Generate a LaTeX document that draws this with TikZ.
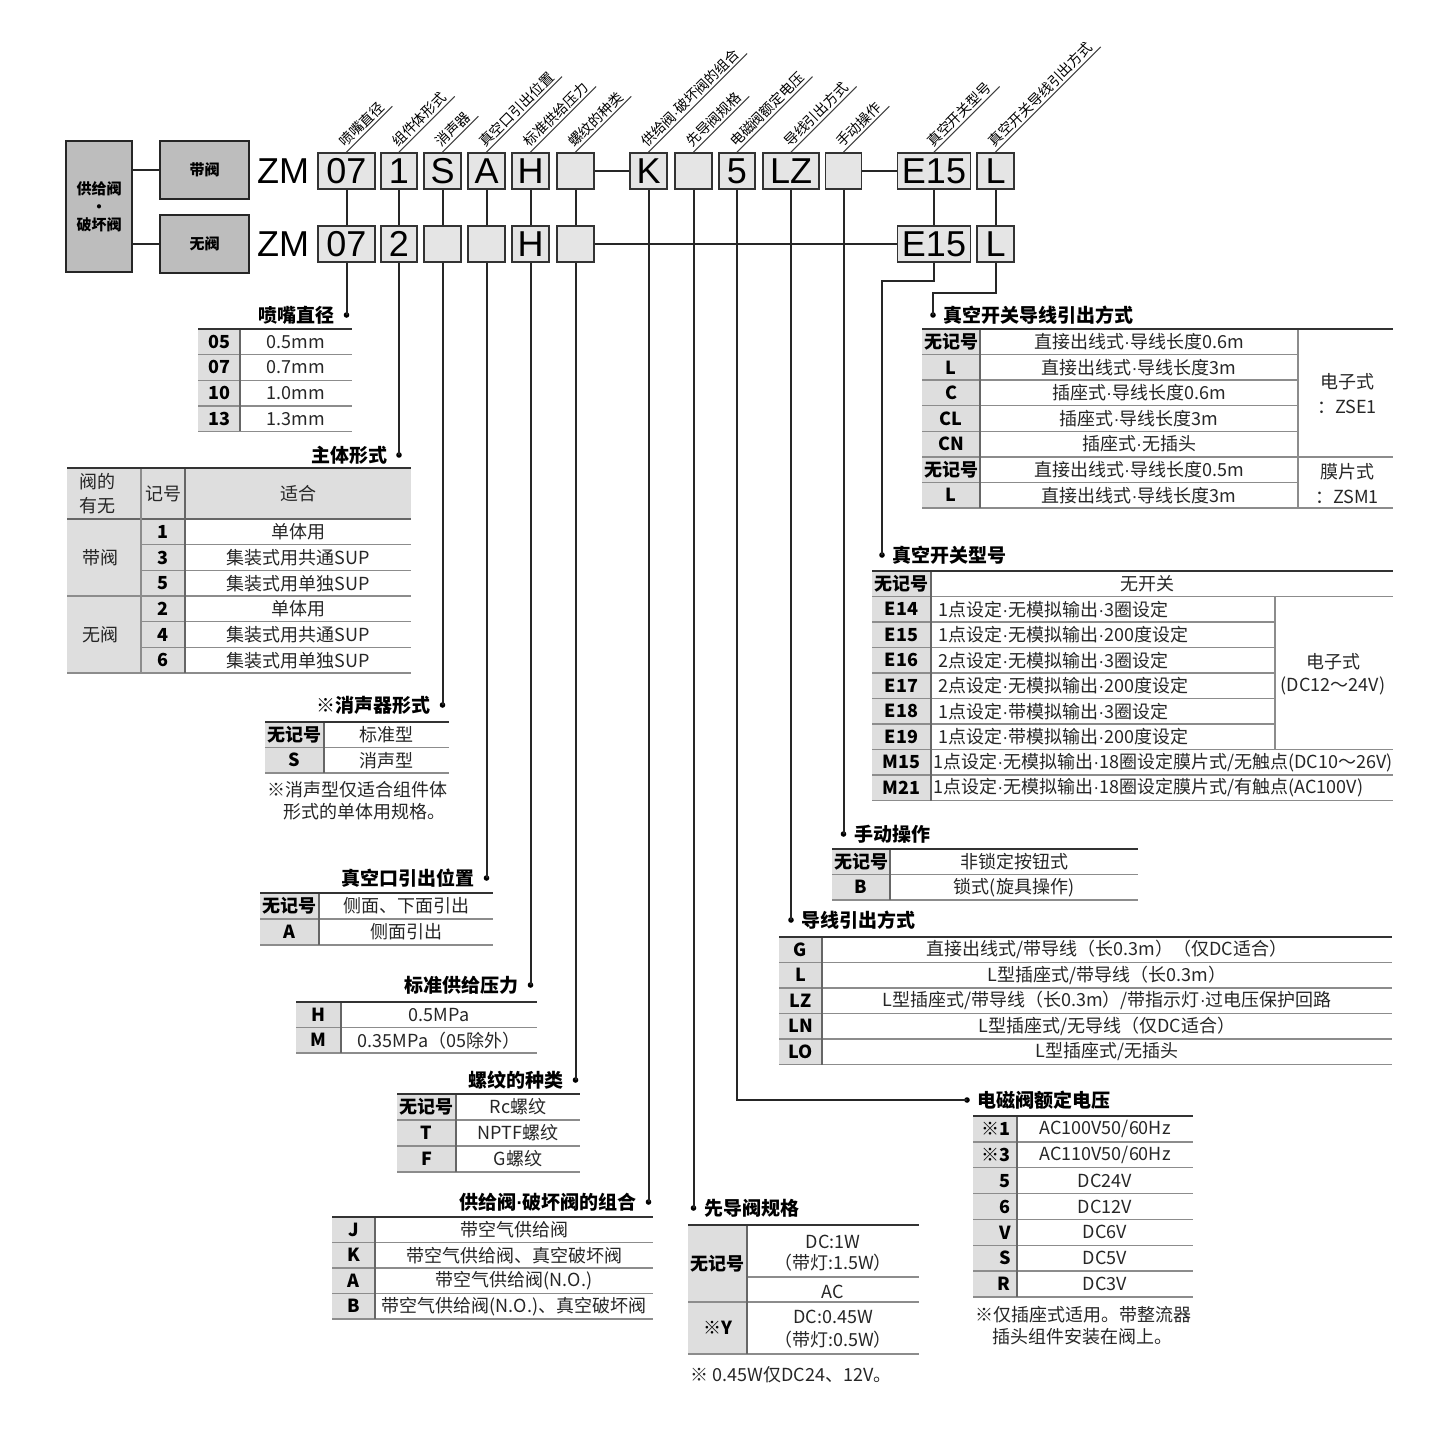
\documentclass[tikz,border=0pt]{standalone}
\usepackage{fontspec}
\setmainfont{Liberation Sans}
\newfontfamily\cjk{Noto Sans CJK SC}
\newfontfamily\latinf{Liberation Sans}
\newcommand{\md}{{\latinf ·}}
\usetikzlibrary{positioning}

\begin{document}
\begin{tikzpicture}[x=0.5pt, y=-0.5pt,
    link/.style={line width=1pt, black!85},
    uline/.style={line width=0.5pt, black!75, shorten >=-2pt},
    codebox/.style={draw=black!80, line width=0.9pt, fill=black!10, minimum height=18pt,
        inner sep=0pt, text height=12.9pt, text depth=0pt, font=\fontsize{18}{18}\selectfont},
    sidebox/.style={draw=black!85, line width=1pt, fill=black!26, inner sep=0pt, align=center,
        font=\cjk\bfseries\fontsize{7.5}{9}\selectfont},
    zm/.style={inner sep=0pt, font=\fontsize{18}{18}\selectfont},
    hdr/.style={rotate=45, anchor=south west, inner sep=1pt, font=\cjk\fontsize{7}{7}\selectfont},
    dot/.style={circle, fill=black, inner sep=0pt, minimum size=2.8pt},
    ttl/.style={inner sep=0pt, font=\cjk\bfseries\fontsize{9.5}{10}\selectfont},
    key/.style={inner sep=0pt, font=\cjk\bfseries\fontsize{9}{9}\selectfont},
    cell/.style={inner sep=0pt, text=black!85, font=\cjk\fontsize{9}{9}\selectfont},
    note/.style={inner sep=0pt, anchor=west, text=black!85, font=\cjk\fontsize{9}{11}\selectfont},
    keyfill/.style={fill=black!13},
    toprule/.style={line width=1.2pt, black!80},
    rowline/.style={line width=0.7pt, black!45},
    colline/.style={line width=0.7pt, black!60}]
\useasboundingbox (0,0) rectangle (1440,1440);

% valve selector
\node[sidebox, minimum width=33pt, minimum height=65.5pt] (ctl) at (99,206.5) {供给阀\\·\\破坏阀};
\node[sidebox, minimum width=44.5pt, minimum height=29pt] (wv) at (204.5,170) {带阀};
\node[sidebox, minimum width=44.5pt, minimum height=29pt] (nv) at (204.5,243.5) {无阀};
\draw[link] (ctl.east |- wv.west) -- (wv.west);
\draw[link] (ctl.east |- nv.west) -- (nv.west);

% part number, with valve
\node[zm] (zmT) at (283,171) {ZM};
\node[codebox, minimum width=28.5pt] (t07) at (346.5,171) {07};
\node[codebox, minimum width=18pt] (t1) at (399,171) {1};
\node[codebox, minimum width=18.5pt] (tS) at (442.5,171) {S};
\node[codebox, minimum width=18.5pt] (tA) at (486.5,171) {A};
\node[codebox, minimum width=18.5pt] (tH) at (530.5,171) {H};
\node[codebox, minimum width=18.5pt] (tT) at (575.5,171) {};
\node[codebox, minimum width=18.5pt] (tK) at (648.5,171) {K};
\node[codebox, minimum width=18.5pt] (tP) at (693.5,171) {};
\node[codebox, minimum width=18pt] (t5) at (737,171) {5};
\node[codebox, minimum width=28pt] (tLZ) at (791,171) {LZ};
\node[codebox, minimum width=18pt] (tM) at (843.5,171) {};
\node[codebox, minimum width=36.5pt] (tE) at (934,171) {E15};
\node[codebox, minimum width=18.5pt] (tL) at (995.5,171) {L};

% part number, without valve
\node[zm] (zmB) at (283,244) {ZM};
\node[codebox, minimum width=28.5pt] (b07) at (346.5,244) {07};
\node[codebox, minimum width=18pt] (b1) at (399,244) {2};
\node[codebox, minimum width=18.5pt] (bS) at (442.5,244) {};
\node[codebox, minimum width=18.5pt] (bA) at (486.5,244) {};
\node[codebox, minimum width=18.5pt] (bH) at (530.5,244) {H};
\node[codebox, minimum width=18.5pt] (bT) at (575.5,244) {};
\node[codebox, minimum width=36.5pt] (bE) at (934,244) {E15};
\node[codebox, minimum width=18.5pt] (bL) at (995.5,244) {L};

% slanted captions
\foreach \b/\t in {t07/喷嘴直径, t1/组件体形式, tS/消声器, tA/真空口引出位置, tH/标准供给压力,
    tT/螺纹的种类, tK/供给阀\md 破坏阀的组合, tP/先导阀规格, t5/电磁阀额定电压, tLZ/导线引出方式,
    tM/手动操作, tE/真空开关型号, tL/真空开关导线引出方式}{
  \node[hdr] (h\b) at (\b.north) {\t};
  \draw[uline] (\b.north) -- (h\b.south east);
}

% table heads
\node[dot] (d07) at (346.5,315) {};
\node[ttl, left=4pt of d07] (n07) {喷嘴直径};
\node[dot] (d1) at (399,455) {};
\node[ttl, left=4pt of d1] (n1) {主体形式};
\node[dot] (dS) at (442.5,705) {};
\node[ttl, left=4pt of dS] (nS) {※消声器形式};
\node[dot] (dA) at (486.5,878) {};
\node[ttl, left=4pt of dA] (nA) {真空口引出位置};
\node[dot] (dH) at (530.5,985) {};
\node[ttl, left=4pt of dH] (nH) {标准供给压力};
\node[dot] (dT) at (575.5,1080) {};
\node[ttl, left=4pt of dT] (nT) {螺纹的种类};
\node[dot] (dK) at (648.5,1202) {};
\node[ttl, left=4pt of dK] (nK) {供给阀\md 破坏阀的组合};
\node[dot] (dP) at (693.5,1208) {};
\node[ttl, right=3.5pt of dP] (nP) {先导阀规格};
\node[dot] (d5) at (967,1100) {};
\node[ttl, right=3.5pt of d5] (n5) {电磁阀额定电压};
\node[dot] (dLZ) at (791,920) {};
\node[ttl, right=3.5pt of dLZ] (nLZ) {导线引出方式};
\node[dot] (dM) at (843.5,834) {};
\node[ttl, right=3.5pt of dM] (nM) {手动操作};
\node[dot] (dE) at (882,555) {};
\node[ttl, right=3.5pt of dE] (nE) {真空开关型号};
\node[dot] (dL) at (933,315) {};
\node[ttl, right=3.5pt of dL] (nL) {真空开关导线引出方式};

% connectors
\draw[link] (tT.east) -- (tK.west);
\draw[link] (tM.east) -- (tE.west);
\draw[link] (bT.east) -- (bE.west);
\foreach \n in {07,1,S,A,H,T,E,L} \draw[link] (t\n.south) -- (b\n.north);
\foreach \n in {07,1,S,A,H,T} \draw[link] (b\n.south) -- (d\n.center);
\foreach \n in {K,P,LZ,M} \draw[link] (t\n.south) -- (d\n.center);
\draw[link] (t5.south) |- (d5.center);
\draw[link] (bE.south) -- ++(0,18) -| (dE.center);
\draw[link] (bL.south) -- ++(0,30) -| (dL.center);

% nozzle size
\begin{scope}[shift={(198,329)}]
  \fill[keyfill] (0,0) rectangle (42,102.4);
  \foreach \k/\v [count=\i] in {05/0.5mm, 07/0.7mm, 10/1.0mm, 13/1.3mm}{
    \node[key] (k07\i) at (21,{(\i-0.5)*25.6}) {\k};
    \node[cell] (v07\i) at (98,{(\i-0.5)*25.6}) {\v};
    \draw[rowline] (0,{\i*25.6}) -- (154,{\i*25.6});
  }
  \draw[colline] (42,0) -- (42,102.4);
  \draw[toprule] (0,0) -- (154,0);
\end{scope}

% body type
\begin{scope}[shift={(67,468)}]
  \fill[keyfill] (0,0) rectangle (118,205);
  \fill[keyfill] (118,0) rectangle (344,51);
  \node[cell, align=center, font=\cjk\fontsize{9}{12}\selectfont] (g0) at (30,26) {阀的\\有无};
  \node[cell] (g1) at (96,26) {记号};
  \node[cell] (g2) at (231,26) {适合};
  \node[cell] (g3) at (33,89.5) {带阀};
  \node[cell] (g4) at (33,166.5) {无阀};
  \foreach \k/\v [count=\i] in {1/单体用, 3/集装式用共通SUP, 5/集装式用单独SUP,
      2/单体用, 4/集装式用共通SUP, 6/集装式用单独SUP}{
    \node[key] (k1\i) at (96,{51+(\i-0.5)*25.67}) {\k};
    \node[cell] (v1\i) at (231,{51+(\i-0.5)*25.67}) {\v};
  }
  \foreach \i in {1,2,4,5} \draw[rowline] (74,{51+\i*25.67}) -- (344,{51+\i*25.67});
  \foreach \y in {128,205} \draw[rowline] (0,\y) -- (344,\y);
  \draw[colline] (0,51) -- (344,51);
  \draw[rowline] (74,0) -- (74,205);
  \draw[colline] (118,0) -- (118,205);
  \draw[toprule] (0,0) -- (344,0);
\end{scope}

% silencer
\begin{scope}[shift={(265,722)}]
  \fill[keyfill] (0,0) rectangle (59,51);
  \foreach \k/\v [count=\i] in {无记号/标准型, S/消声型}{
    \node[key] (kS\i) at (29.5,{(\i-0.5)*25.5}) {\k};
    \node[cell] (vS\i) at (121.5,{(\i-0.5)*25.5}) {\v};
    \draw[rowline] (0,{\i*25.5}) -- (184,{\i*25.5});
  }
  \draw[colline] (59,0) -- (59,51);
  \draw[toprule] (0,0) -- (184,0);
\end{scope}
\node[note] (fS1) at (267,790) {※消声型仅适合组件体};
\node[note] (fS2) at (283,812) {形式的单体用规格。};

% vacuum port
\begin{scope}[shift={(260,893)}]
  \fill[keyfill] (0,0) rectangle (59,52);
  \foreach \k/\v [count=\i] in {无记号/{侧面、下面引出}, A/侧面引出}{
    \node[key] (kA\i) at (29.5,{(\i-0.5)*26}) {\k};
    \node[cell] (vA\i) at (146,{(\i-0.5)*26}) {\v};
    \draw[rowline] (0,{\i*26}) -- (233,{\i*26});
  }
  \draw[colline] (59,0) -- (59,52);
  \draw[toprule] (0,0) -- (233,0);
\end{scope}

% supply pressure
\begin{scope}[shift={(296,1002)}]
  \fill[keyfill] (0,0) rectangle (45,51);
  \foreach \k/\v [count=\i] in {H/0.5MPa, M/{0.35MPa（05除外）}}{
    \node[key] (kH\i) at (22.5,{(\i-0.5)*25.5}) {\k};
    \node[cell] (vH\i) at (143,{(\i-0.5)*25.5}) {\v};
    \draw[rowline] (0,{\i*25.5}) -- (241,{\i*25.5});
  }
  \draw[colline] (45,0) -- (45,51);
  \draw[toprule] (0,0) -- (241,0);
\end{scope}

% thread
\begin{scope}[shift={(397,1094)}]
  \fill[keyfill] (0,0) rectangle (59,78);
  \foreach \k/\v [count=\i] in {无记号/Rc螺纹, T/NPTF螺纹, F/G螺纹}{
    \node[key] (kT\i) at (29.5,{(\i-0.5)*26}) {\k};
    \node[cell] (vT\i) at (121,{(\i-0.5)*26}) {\v};
    \draw[rowline] (0,{\i*26}) -- (183,{\i*26});
  }
  \draw[colline] (59,0) -- (59,78);
  \draw[toprule] (0,0) -- (183,0);
\end{scope}

% supply / release valve
\begin{scope}[shift={(332,1217)}]
  \fill[keyfill] (0,0) rectangle (43,102);
  \foreach \k/\v [count=\i] in {J/带空气供给阀, K/{带空气供给阀、真空破坏阀},
      A/{带空气供给阀(N.O.)}, B/{带空气供给阀(N.O.)、真空破坏阀}}{
    \node[key] (kK\i) at (21.5,{(\i-0.5)*25.5}) {\k};
    \node[cell] (vK\i) at (182,{(\i-0.5)*25.5}) {\v};
    \draw[rowline] (0,{\i*25.5}) -- (321,{\i*25.5});
  }
  \draw[colline] (43,0) -- (43,102);
  \draw[toprule] (0,0) -- (321,0);
\end{scope}

% pilot valve
\begin{scope}[shift={(688,1225)}]
  \fill[keyfill] (0,0) rectangle (59,129);
  \node[key] (kP1) at (29.5,38.5) {无记号};
  \node[key] (kP2) at (29.5,103) {※Y};
  \node[cell] (vP1) at (145,17) {DC:1W};
  \node[cell] (vP2) at (145,38) {（带灯:1.5W）};
  \node[cell] (vP3) at (145,67) {AC};
  \node[cell] (vP4) at (145,92) {DC:0.45W};
  \node[cell] (vP5) at (145,115) {（带灯:0.5W）};
  \draw[rowline] (59,52) -- (231,52);
  \draw[rowline] (0,77) -- (231,77);
  \draw[rowline] (0,129) -- (231,129);
  \draw[colline] (59,0) -- (59,129);
  \draw[toprule] (0,0) -- (231,0);
\end{scope}
\node[note] (fP) at (690,1375) {※ 0.45W仅DC24、12V。};

% rated voltage
\begin{scope}[shift={(973,1116)}]
  \fill[keyfill] (0,0) rectangle (44,181);
  \foreach \k/\v [count=\i] in {※1/{AC100V50/60Hz}, ※3/{AC110V50/60Hz}, 5/DC24V, 6/DC12V,
      V/DC6V, S/DC5V, R/DC3V}{
    \node[key, anchor=east] (kV\i) at (38,{(\i-0.5)*25.86}) {\k};
    \node[cell] (vV\i) at (132,{(\i-0.5)*25.86}) {\v};
    \draw[rowline] (0,{\i*25.86}) -- (220,{\i*25.86});
  }
  \draw[colline] (44,0) -- (44,181);
  \draw[toprule] (0,0) -- (220,0);
\end{scope}
\node[note] (fV1) at (975,1315) {※仅插座式适用。带整流器};
\node[note] (fV2) at (992,1337) {插头组件安装在阀上。};

% wiring
\begin{scope}[shift={(779,937)}]
  \fill[keyfill] (0,0) rectangle (43,127.5);
  \foreach \k/\v [count=\i] in {G/{直接出线式/带导线（长0.3m）（仅DC适合）}, L/{L型插座式/带导线（长0.3m）},
      LZ/{L型插座式/带导线（长0.3m）/带指示灯\md 过电压保护回路}, LN/{L型插座式/无导线（仅DC适合）},
      LO/{L型插座式/无插头}}{
    \node[key] (kW\i) at (21.5,{(\i-0.5)*25.5}) {\k};
    \node[cell] (vW\i) at (328,{(\i-0.5)*25.5}) {\v};
    \draw[rowline] (0,{\i*25.5}) -- (613,{\i*25.5});
  }
  \draw[colline] (43,0) -- (43,127.5);
  \draw[toprule] (0,0) -- (613,0);
\end{scope}

% manual override
\begin{scope}[shift={(832,849)}]
  \fill[keyfill] (0,0) rectangle (58,51);
  \foreach \k/\v [count=\i] in {无记号/非锁定按钮式, B/{锁式(旋具操作)}}{
    \node[key] (kM\i) at (29,{(\i-0.5)*25.5}) {\k};
    \node[cell] (vM\i) at (182,{(\i-0.5)*25.5}) {\v};
    \draw[rowline] (0,{\i*25.5}) -- (306,{\i*25.5});
  }
  \draw[colline] (58,0) -- (58,51);
  \draw[toprule] (0,0) -- (306,0);
\end{scope}

% vacuum switch
\begin{scope}[shift={(872,571)}]
  \fill[keyfill] (0,0) rectangle (59,229.5);
  \node[key] (kE0) at (29.5,12.75) {无记号};
  \node[cell] (vE0) at (275,12.75) {无开关};
  \foreach \k/\v [count=\i] in {E14/{1点设定\md 无模拟输出\md 3圈设定}, E15/{1点设定\md 无模拟输出\md 200度设定},
      E16/{2点设定\md 无模拟输出\md 3圈设定}, E17/{2点设定\md 无模拟输出\md 200度设定},
      E18/{1点设定\md 带模拟输出\md 3圈设定}, E19/{1点设定\md 带模拟输出\md 200度设定}}{
    \node[key] (kE\i) at (29.5,{(\i+0.5)*25.5}) {\k};
    \node[cell, anchor=west] (vE\i) at (66,{(\i+0.5)*25.5}) {\v};
  }
  \node[key] (kM15) at (29.5,191.25) {M15};
  \node[cell, anchor=west] (vM15) at (61,191.25) {1点设定\md 无模拟输出\md 18圈设定膜片式/无触点(DC10～26V)};
  \node[key] (kM21) at (29.5,216.75) {M21};
  \node[cell, anchor=west] (vM21) at (61,216.75) {1点设定\md 无模拟输出\md 18圈设定膜片式/有触点(AC100V)};
  \node[cell, align=center, font=\cjk\fontsize{9}{11.5}\selectfont] (gE) at (461,103) {电子式\\(DC12～24V)};
  \foreach \i/\w in {1/521,2/403,3/403,4/403,5/403,6/403,7/521,8/521,9/521}
    \draw[rowline] (0,{\i*25.5}) -- (\w,{\i*25.5});
  \draw[rowline] (403,25.5) -- (403,178.5);
  \draw[colline] (59,0) -- (59,229.5);
  \draw[toprule] (0,0) -- (521,0);
\end{scope}

% switch lead wire
\begin{scope}[shift={(922,329)}]
  \fill[keyfill] (0,0) rectangle (58,179);
  \foreach \k/\v [count=\i] in {无记号/{直接出线式\md 导线长度0.6m}, L/{直接出线式\md 导线长度3m},
      C/{插座式\md 导线长度0.6m}, CL/{插座式\md 导线长度3m}, CN/{插座式\md 无插头},
      无记号/{直接出线式\md 导线长度0.5m}, L/{直接出线式\md 导线长度3m}}{
    \node[key] (kL\i) at (29,{(\i-0.5)*25.57}) {\k};
    \node[cell] (vL\i) at (217,{(\i-0.5)*25.57}) {\v};
  }
  \node[cell, align=center, font=\cjk\fontsize{9}{12.5}\selectfont] (gL1) at (425,64.5) {电子式\\：ZSE1};
  \node[cell, align=center, font=\cjk\fontsize{9}{12.5}\selectfont] (gL2) at (425,154.5) {膜片式\\：ZSM1};
  \foreach \i/\w in {1/376,2/376,3/376,4/376,5/471,6/376,7/471}
    \draw[rowline] (0,{\i*25.57}) -- (\w,{\i*25.57});
  \draw[rowline] (376,0) -- (376,179);
  \draw[colline] (58,0) -- (58,179);
  \draw[toprule] (0,0) -- (471,0);
\end{scope}
\end{tikzpicture}
\end{document}
